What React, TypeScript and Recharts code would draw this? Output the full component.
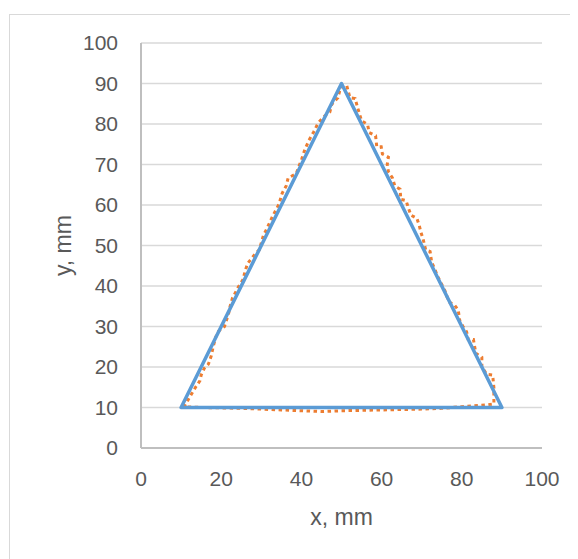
import React from "react";
import { LineChart, Line, XAxis, YAxis, CartesianGrid } from "recharts";

// Blue outline (triangle)
const outlineX = [10, 50, 90, 10];
const outlineY = [10, 90, 10, 10];

// Orange dotted traced path
const traceX = [
  10.5, 11.0, 12.2, 13.6, 14.7, 15.0, 15.8, 16.8, 17.5, 18.0, 18.6, 19.3, 20.8, 21.4, 21.9, 22.2, 22.8, 24.3,
  25.5, 25.9, 26.6, 27.6, 28.5, 29.5, 30.5, 31.5, 32.7, 34.4, 35.2, 36.2, 36.7, 38.7, 39.4, 40.1, 40.9, 41.9,
  43.1, 44.2, 45.6, 47.1, 47.6, 49.1, 49.8, 51.3, 52.1, 53.4, 54.0, 55.0, 56.5, 56.9, 58.5, 58.8, 59.9, 60.2,
  61.7, 61.4, 61.7, 62.7, 63.3, 64.6, 64.8, 66.1, 66.7, 67.3, 68.8, 69.4, 69.8, 70.4, 71.0, 72.1, 72.5, 73.3,
  73.9, 75.0, 75.8, 76.8, 78.0, 79.1, 79.5, 80.3, 81.2, 81.6, 82.9, 83.5, 85.0, 85.0, 86.2, 87.7, 88.0, 88.0,
  88.0, 85.8, 83.0, 80.0, 75.0, 70.0, 65.0, 60.0, 55.0, 50.0, 45.0, 40.0, 35.0, 30.0, 25.0, 20.0, 15.0, 10.5,
];
const traceY = [
  10.2, 10.6, 12.7, 15.0, 16.6, 18.0, 19.7, 20.7, 22.7, 25.0, 27.3, 28.8, 30.0, 31.8, 33.4, 34.9, 37.0, 39.8,
  41.7, 43.5, 45.6, 46.8, 48.0, 48.9, 52.4, 54.4, 57.0, 60.2, 62.9, 64.7, 66.7, 67.7, 69.6, 71.4, 73.8, 76.0,
  78.1, 80.3, 81.8, 83.0, 84.9, 86.5, 89.1, 89.5, 86.5, 86.3, 84.1, 80.8, 79.9, 77.9, 77.1, 74.4, 74.4, 72.6,
  71.8, 70.0, 68.2, 66.7, 64.7, 63.9, 61.4, 61.1, 59.2, 57.5, 56.7, 54.9, 53.3, 51.4, 48.9, 48.5, 45.8, 44.1,
  42.5, 40.4, 38.8, 36.0, 35.5, 34.1, 31.4, 30.0, 28.7, 26.8, 26.8, 23.4, 22.4, 20.1, 18.2, 18.0, 14.9, 11.9,
  10.9, 10.6, 10.4, 10.2, 9.8, 9.6, 9.5, 9.4, 9.3, 9.2, 9.0, 9.2, 9.4, 9.6, 9.8, 9.9, 10.0, 10.2,
];

const xTicks = [0, 20, 40, 60, 80, 100];
const yTicks = [0, 10, 20, 30, 40, 50, 60, 70, 80, 90, 100];
const xTitle = "x, mm";
const yTitle = "y, mm";

const outlineData = outlineX.map((x, i) => ({ x, y: outlineY[i] }));
const traceData = traceX.map((x, i) => ({ x, y: traceY[i] }));

const FONT = "'Liberation Sans', Arial, sans-serif";
const TEXT = "#595959";

export default function App() {
  const W = 570;
  const H = 551;
  return (
    <div style={{ position: "relative", width: W, height: H, overflow: "hidden", background: "#fff" }}>
      <div
        style={{
          position: "absolute",
          left: 1,
          top: 6,
          width: 640,
          height: 640,
          border: "1.5px solid #d9d9d9",
          boxSizing: "border-box",
          pointerEvents: "none",
        }}
      />
      <LineChart width={W} height={H} margin={{ top: 35, right: 36, bottom: 31, left: 43 }}>
        <CartesianGrid horizontal vertical={false} stroke="#d9d9d9" strokeWidth={1.5} />
        <XAxis
          type="number"
          dataKey="x"
          domain={[0, 100]}
          ticks={xTicks}
          allowDataOverflow
          height={80}
          tickLine={false}
          tickSize={0}
          tickMargin={23}
          axisLine={{ stroke: "#bfbfbf", strokeWidth: 2 }}
          tick={{ fill: TEXT, fontSize: 21, fontFamily: FONT }}
          label={{
            content: (p: any) => {
              const vb = p.viewBox;
              return (
                <text
                  x={vb.x + vb.width / 2}
                  y={vb.y + 77}
                  textAnchor="middle"
                  fill={TEXT}
                  fontSize={23}
                  fontFamily={FONT}
                >
                  {xTitle}
                </text>
              );
            },
          }}
        />
        <YAxis
          type="number"
          dataKey="y"
          domain={[0, 100]}
          ticks={yTicks}
          allowDataOverflow
          width={90}
          tickLine={false}
          tickSize={0}
          tickMargin={23}
          axisLine={{ stroke: "#bfbfbf", strokeWidth: 2 }}
          tick={{ fill: TEXT, fontSize: 21, fontFamily: FONT }}
          label={{
            content: (p: any) => {
              const vb = p.viewBox;
              const cx = vb.x + 20;
              const cy = vb.y + vb.height / 2;
              return (
                <text
                  x={cx}
                  y={cy}
                  transform={`rotate(-90, ${cx}, ${cy})`}
                  textAnchor="middle"
                  fill={TEXT}
                  fontSize={23}
                  fontFamily={FONT}
                >
                  {yTitle}
                </text>
              );
            },
          }}
        />
        <Line
          data={traceData}
          dataKey="y"
          type="linear"
          stroke="#ED7D31"
          strokeWidth={3}
          strokeDasharray="3.5 3.5"
          dot={false}
          activeDot={false}
          isAnimationActive={false}
        />
        <Line
          data={outlineData}
          dataKey="y"
          type="linear"
          stroke="#5B9BD5"
          strokeWidth={3.5}
          strokeLinejoin="round"
          strokeLinecap="round"
          dot={false}
          activeDot={false}
          isAnimationActive={false}
        />
      </LineChart>
    </div>
  );
}
